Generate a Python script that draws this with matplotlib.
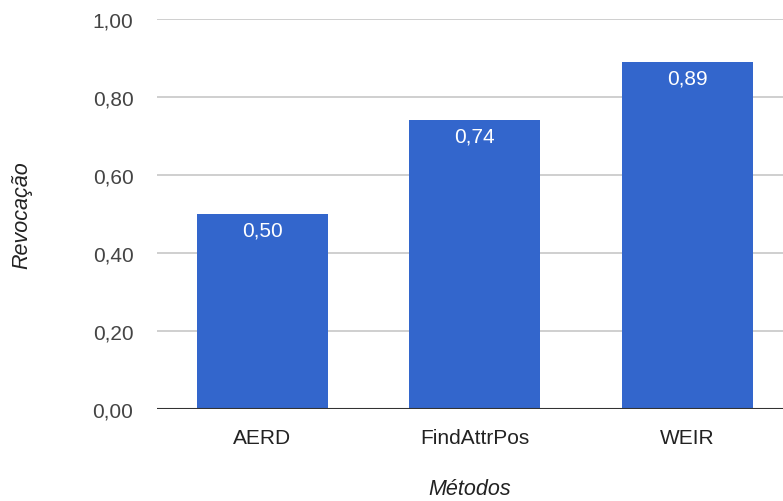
import matplotlib
matplotlib.use("Agg")
import matplotlib.pyplot as plt
from matplotlib.ticker import FixedLocator

metodos = ["AERD", "FindAttrPos", "WEIR"]
revocacao = [0.50, 0.74, 0.89]
yticks = [0.0, 0.2, 0.4, 0.6, 0.8, 1.0]

plt.rcParams['font.family'] = ['Liberation Sans', 'DejaVu Sans']


def fmt(v):
    return ("%.2f" % v).replace('.', ',')


def main():
    fig = plt.figure(figsize=(7.83, 5.02), dpi=100)
    ax = fig.add_axes([157 / 783, 1 - 410 / 502, 1 - 157 / 783, 390 / 502])

    x = range(len(metodos))
    bars = ax.bar(x, revocacao, width=0.615, color='#3366cc', zorder=3)

    for b, v in zip(bars, revocacao):
        ax.annotate(fmt(v), (b.get_x() + b.get_width() / 2, v),
                    xytext=(0, -4.5), textcoords='offset points',
                    ha='center', va='top', color='white', fontsize=15, zorder=4)

    ax.set_xlim(-0.495, 2.45)
    ax.set_ylim(0, 1.0)
    ax.yaxis.set_major_locator(FixedLocator(yticks))
    ax.set_yticklabels([fmt(t) for t in yticks])
    ax.set_xticks(list(x))
    ax.set_xticklabels(metodos)

    ax.grid(axis='y', color='#cccccc', linewidth=1.3, zorder=0)
    ax.axhline(0, color='#333333', linewidth=1.5, zorder=5)
    for s in ax.spines.values():
        s.set_visible(False)
    ax.tick_params(axis='both', length=0, labelsize=15)
    ax.tick_params(axis='y', pad=17, colors='#444444')
    ax.tick_params(axis='x', pad=14, colors='#222222')

    ax.set_ylabel('Revocação', fontsize=15.5, style='italic', color='#222222', labelpad=43)
    ax.set_xlabel('Métodos', fontsize=15.5, style='italic', color='#222222', labelpad=22)

    fig.savefig('out.png', dpi=100)


if __name__ == '__main__':
    main()
